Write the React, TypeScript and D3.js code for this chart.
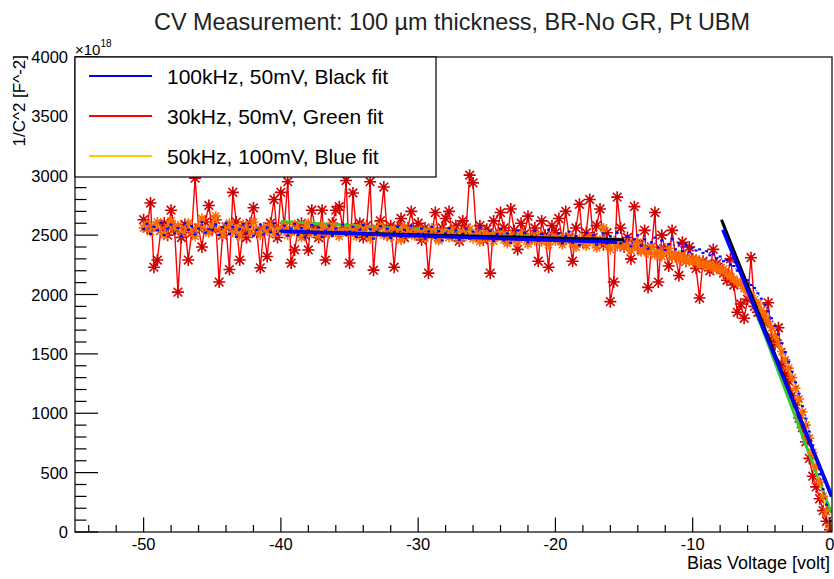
import * as d3 from "d3";

const TITLE = "CV Measurement: 100 \u00b5m thickness, BR-No GR, Pt UBM";

// bias sweep: -50 V to 0 V in 0.25 V steps
const V_START = -50;
const V_STEP = 0.25;

// 1/C^2 in units of 1e18 F^-2, one value per bias step
const RED_30K = [
  2630, 2560, 2770, 2230, 2290, 2540, 2600, 2500, 2710, 2560, 2020, 2480, 2590, 2290, 2520, 2980, 2560, 2400, 2610, 2750,
  2550, 2630, 2105, 2500, 2570, 2210, 2860, 2610, 2290, 2540, 2480, 2600, 2730, 2520, 2225, 2560, 2320, 2600, 2800, 2480,
  2860, 2570, 2950, 2265, 2375, 2540, 2600, 2500, 2375, 2710, 2560, 2480, 2710, 2290, 2520, 2600, 2710, 2740, 2560, 2960,
  2265, 2855, 2530, 2600, 2480, 2580, 2950, 2205, 2550, 2620, 2905, 2500, 2580, 2230, 2560, 2640, 2480, 2560, 2700, 2520,
  2600, 2460, 2560, 2180, 2520, 2690, 2480, 2560, 2640, 2700, 2500, 2580, 2450, 2620, 2560, 3005, 2940, 2500, 2580, 2460,
  2550, 2180, 2620, 2500, 2690, 2560, 2460, 2720, 2540, 2380, 2600, 2510, 2660, 2480, 2560, 2280, 2620, 2500, 2230, 2580,
  2520, 2640, 2460, 2700, 2480, 2280, 2560, 2760, 2440, 2520, 2800, 2480, 2580, 2720, 2420, 2520, 1940, 2105, 2820, 2560,
  2400, 2480, 2300, 2740, 2420, 2380, 2540, 2060, 2400, 2690, 2105, 2500, 2380, 2240, 2540, 2320, 2160, 2440, 2280, 2400,
  2300, 2220, 1970, 2280, 2250, 2200, 2380, 2260, 2220, 2180, 2120, 2300, 2080, 1850, 1920, 1800, 1960, 2310, 1900, 1850,
  1820, 1760, 1930, 1640, 1580, 1720, 1420, 1330, 1270, 1150, 1070, 960, 880, 760, 620, 470, 380, 280, 180, 90,
  20
];

const ORANGE_50K = [
  2560, 2590, 2530, 2575, 2610, 2540, 2500, 2565, 2620, 2545, 2580, 2515, 2555, 2600, 2530, 2490, 2570, 2640, 2545, 2520,
  2580, 2660, 2540, 2505, 2575, 2600, 2525, 2550, 2495, 2590, 2560, 2520, 2610, 2545, 2500, 2565, 2535, 2585, 2515, 2555,
  2540, 2575, 2500, 2525, 2590, 2545, 2480, 2555, 2600, 2520, 2535, 2495, 2570, 2545, 2510, 2580, 2525, 2490, 2555, 2530,
  2520, 2560, 2490, 2540, 2575, 2505, 2470, 2545, 2515, 2580, 2500, 2530, 2485, 2550, 2520, 2460, 2565, 2510, 2535, 2495,
  2505, 2540, 2475, 2520, 2560, 2490, 2455, 2530, 2510, 2480, 2545, 2500, 2465, 2525, 2490, 2550, 2470, 2505, 2445, 2515,
  2480, 2510, 2450, 2490, 2525, 2460, 2430, 2500, 2470, 2440, 2515, 2475, 2425, 2490, 2455, 2505, 2445, 2470, 2420, 2485,
  2450, 2480, 2420, 2460, 2495, 2430, 2400, 2470, 2440, 2410, 2485, 2445, 2395, 2460, 2560, 2420, 2380, 2450, 2405, 2430,
  2400, 2430, 2370, 2405, 2440, 2360, 2385, 2350, 2400, 2335, 2370, 2320, 2355, 2390, 2310, 2340, 2295, 2330, 2280, 2300,
  2275, 2300, 2250, 2265, 2235, 2255, 2220, 2240, 2200, 2215, 2175, 2150, 2130, 2105, 2085, 2050, 2020, 1990, 1955, 1920,
  1865, 1820, 1770, 1720, 1650, 1590, 1520, 1450, 1380, 1300, 1210, 1120, 1010, 900, 790, 670, 550, 420, 300, 170,
  40
];

const BLUE_100K = [
  2550, 2595, 2510, 2570, 2540, 2605, 2500, 2555, 2590, 2515, 2560, 2490, 2600, 2545, 2575, 2505, 2555, 2610, 2520, 2550,
  2545, 2590, 2500, 2565, 2600, 2510, 2570, 2485, 2550, 2595, 2515, 2570, 2495, 2545, 2590, 2505, 2565, 2525, 2600, 2510,
  2535, 2580, 2495, 2555, 2595, 2500, 2560, 2480, 2540, 2585, 2505, 2565, 2485, 2535, 2580, 2495, 2555, 2515, 2590, 2500,
  2525, 2570, 2485, 2545, 2585, 2490, 2550, 2470, 2530, 2575, 2495, 2555, 2475, 2525, 2570, 2485, 2545, 2505, 2580, 2490,
  2510, 2555, 2470, 2530, 2570, 2475, 2535, 2455, 2515, 2560, 2480, 2540, 2460, 2510, 2555, 2470, 2530, 2490, 2565, 2475,
  2490, 2535, 2450, 2510, 2550, 2455, 2515, 2435, 2495, 2540, 2460, 2520, 2440, 2490, 2535, 2450, 2510, 2470, 2545, 2455,
  2470, 2515, 2430, 2490, 2530, 2435, 2495, 2415, 2475, 2520, 2440, 2500, 2420, 2470, 2515, 2430, 2490, 2450, 2520, 2430,
  2445, 2490, 2405, 2465, 2500, 2410, 2465, 2385, 2440, 2480, 2395, 2455, 2375, 2425, 2470, 2380, 2430, 2365, 2420, 2355,
  2395, 2370, 2380, 2350, 2365, 2330, 2345, 2305, 2320, 2280, 2290, 2250, 2240, 2200, 2185, 2145, 2120, 2080, 2055, 2010,
  1965, 1915, 1860, 1800, 1735, 1665, 1590, 1515, 1435, 1350, 1260, 1165, 1060, 955, 845, 730, 610, 485, 360, 230,
  90
];

// linear fits, [volt, value] end points
const BLACK_FIT_FLAT = [[-40, 2530], [-15, 2462]];
const BLACK_FIT_STEEP = [[-7.9, 2630], [0.1, 300]];
const GREEN_FIT_FLAT = [[-40, 2615], [-15, 2450]];
const GREEN_FIT_STEEP = [[-7.8, 2600], [0.1, 160]];
const BLUE_FIT_FLAT = [[-40, 2532], [-15.5, 2440]];
const BLUE_FIT_STEEP = [[-7.8, 2545], [0.15, 300]];

const X_TICKS = [-50, -40, -30, -20, -10, 0];
const Y_TICKS = [0, 500, 1000, 1500, 2000, 2500, 3000, 3500, 4000];

const LEGEND = [
  { label: "100kHz, 50mV, Black fit", color: "#0000ff" },
  { label: "30kHz, 50mV, Green fit", color: "#ff0000" },
  { label: "50kHz, 100mV, Blue fit", color: "#ffcc00" }
];

const FONT = "'Liberation Sans', Arial, Helvetica, sans-serif";

function star(r: number) {
  const a = r * 0.72;
  return `M${-r},0H${r}M0,${-r}V${r}M${-a},${-a}L${a},${a}M${-a},${a}L${a},${-a}`;
}

export default function App() {
  const width = 834;
  const height = 579;
  const plot = { left: 75, right: 832, top: 57, bottom: 532 };

  const x = d3.scaleLinear().domain([-55, 0.15]).range([plot.left, plot.right]);
  const y = d3.scaleLinear().domain([0, 4000]).range([plot.bottom, plot.top]);

  const volts = RED_30K.map((_, i) => V_START + i * V_STEP);
  const pts = (vals: number[]) => vals.map((v, i) => [volts[i], v] as [number, number]);
  const line = d3.line<number[]>().x((d) => x(d[0])).y((d) => y(d[1]));

  const red = pts(RED_30K);
  const orange = pts(ORANGE_50K);
  const blue = pts(BLUE_100K);

  const xMinor = d3.range(-54, 0.1, 2).filter((v) => !X_TICKS.includes(v));
  const yMinor = d3.range(0, 4001, 100).filter((v) => v % 500 !== 0);

  const redStar = star(6);
  const orangeStar = star(5);

  return (
    <div style={{ position: "absolute", left: 0, top: 0, background: "#fff" }}>
      <svg width={width} height={height} fontFamily={FONT}>
        <rect width={width} height={height} fill="#fff" />
        <defs>
          <clipPath id="plot-area">
            <rect x={plot.left} y={plot.top} width={plot.right - plot.left} height={plot.bottom - plot.top} />
          </clipPath>
        </defs>

        <text x={452} y={30} textAnchor="middle" fontSize={23.4} fill="#222">
          {TITLE}
        </text>

        <g clipPath="url(#plot-area)">
          {/* 30 kHz: red line, dark red asterisks */}
          <path d={line(red) ?? ""} fill="none" stroke="#ff0000" strokeWidth={1.4} />
          {red.map((d, i) => (
            <path key={`r${i}`} d={redStar} transform={`translate(${x(d[0])},${y(d[1])})`} stroke="#cc0000" strokeWidth={1.6} />
          ))}
          <path d={line(GREEN_FIT_FLAT) ?? ""} stroke="#33cc33" strokeWidth={3} fill="none" />
          <path d={line(GREEN_FIT_STEEP) ?? ""} stroke="#33cc33" strokeWidth={3} fill="none" />

          {/* 50 kHz: yellow line, orange asterisks */}
          <path d={line(orange) ?? ""} fill="none" stroke="#ffcc00" strokeWidth={1} />
          {orange.map((d, i) => (
            <path key={`o${i}`} d={orangeStar} transform={`translate(${x(d[0])},${y(d[1])})`} stroke="#ff6a00" strokeWidth={1.6} />
          ))}

          {/* 100 kHz: blue dots over the band */}
          <path d={line(blue) ?? ""} fill="none" stroke="#0000ff" strokeWidth={0.8} strokeDasharray="2 3" />
          {blue.map((d, i) => (
            <rect key={`b${i}`} x={x(d[0]) - 1.5} y={y(d[1]) - 1} width={3} height={2} fill="#0000ff" />
          ))}
          <path d={line(BLACK_FIT_FLAT) ?? ""} stroke="#000" strokeWidth={3} fill="none" />
          <path d={line(BLACK_FIT_STEEP) ?? ""} stroke="#000" strokeWidth={3} fill="none" />

          <path d={line(BLUE_FIT_FLAT) ?? ""} stroke="#0000ff" strokeWidth={3.5} fill="none" />
          <path d={line(BLUE_FIT_STEEP) ?? ""} stroke="#0000ff" strokeWidth={3.5} fill="none" />
        </g>

        {/* frame */}
        <rect
          x={plot.left}
          y={plot.top}
          width={plot.right - plot.left}
          height={plot.bottom - plot.top}
          fill="none"
          stroke="#000"
          strokeWidth={1.2}
        />

        {/* x axis */}
        {X_TICKS.map((t) => (
          <g key={`xt${t}`}>
            <line x1={x(t)} x2={x(t)} y1={plot.bottom} y2={plot.bottom - 14.5} stroke="#000" strokeWidth={1.2} />
            <text x={x(t)} y={550} textAnchor="middle" fontSize={16.5} fill="#000">
              {t}
            </text>
          </g>
        ))}
        {xMinor.map((t) => (
          <line key={`xm${t}`} x1={x(t)} x2={x(t)} y1={plot.bottom} y2={plot.bottom - 7} stroke="#000" strokeWidth={1.2} />
        ))}
        <text x={830} y={569} textAnchor="end" fontSize={18} fill="#000">
          Bias Voltage [volt]
        </text>

        {/* y axis */}
        {Y_TICKS.map((t) => (
          <g key={`yt${t}`}>
            <line x1={plot.left} x2={plot.left + 23} y1={y(t)} y2={y(t)} stroke="#000" strokeWidth={1.2} />
            <text x={68} y={y(t) + 6} textAnchor="end" fontSize={16.5} fill="#000">
              {t}
            </text>
          </g>
        ))}
        {yMinor.map((t) => (
          <line key={`ym${t}`} x1={plot.left} x2={plot.left + 11.5} y1={y(t)} y2={y(t)} stroke="#000" strokeWidth={1.2} />
        ))}
        <text x={75} y={55} fontSize={15} fill="#000">
          {"\u00d710"}
          <tspan dy={-8} fontSize={10}>18</tspan>
        </text>
        <text transform="translate(25,55) rotate(-90)" textAnchor="end" fontSize={17} fill="#000">
          1/C^2 [F^-2]
        </text>

        {/* legend */}
        <rect x={75} y={57} width={361} height={120} fill="#fff" stroke="#000" strokeWidth={1.2} />
        {LEGEND.map((item, i) => {
          const ly = 76 + i * 40;
          return (
            <g key={item.label}>
              <line x1={89} x2={152} y1={ly} y2={ly} stroke={item.color} strokeWidth={2} />
              <text x={167} y={ly + 7.5} fontSize={21} fill="#000">
                {item.label}
              </text>
            </g>
          );
        })}
      </svg>
    </div>
  );
}
